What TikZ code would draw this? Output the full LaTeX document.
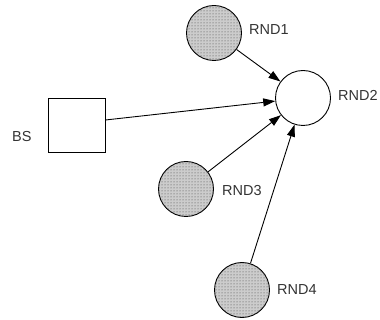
\documentclass[tikz,border=0pt]{standalone}
\usepackage{fontspec}
\setmainfont{Liberation Sans}
\usetikzlibrary{arrows.meta,patterns}
\begin{document}
\begin{tikzpicture}[x=1pt,y=-1pt,
  rnd/.style={circle,draw=black,line width=0.9pt,minimum size=55pt,inner sep=0pt},
  busy/.style={rnd,fill=gray!40,postaction={pattern=dots,pattern color=black!75}},
  lbl/.style={font=\fontsize{14.5}{15}\selectfont,text=black!80,inner sep=0pt,anchor=west},
  link/.style={line width=0.9pt,-{Triangle[length=12pt,width=8pt]}}]
\useasboundingbox (0,0) rectangle (380,320);
\node[busy] (r1) at (214,33) {};
\node[rnd] (r2) at (303,98) {};
\node[busy] (r3) at (186,189) {};
\node[busy] (r4) at (242,290) {};
\node[draw=black,line width=0.9pt,minimum width=57pt,minimum height=54pt,inner sep=0pt] (bs) at (76.5,125) {};
\node[lbl] (l1) at (249,30) {RND1};
\node[lbl] (l2) at (338,95) {RND2};
\node[lbl] (l3) at (222,191) {RND3};
\node[lbl] (l4) at (277,290) {RND4};
\node[lbl] (lb) at (12,137) {BS};
\draw[link] (r1) -- (r2);
\draw[link] (bs.east |- 0,120) -- (r2);
\draw[link] (r3) -- (r2);
\draw[link] (r4) -- (r2);
\end{tikzpicture}
\end{document}
